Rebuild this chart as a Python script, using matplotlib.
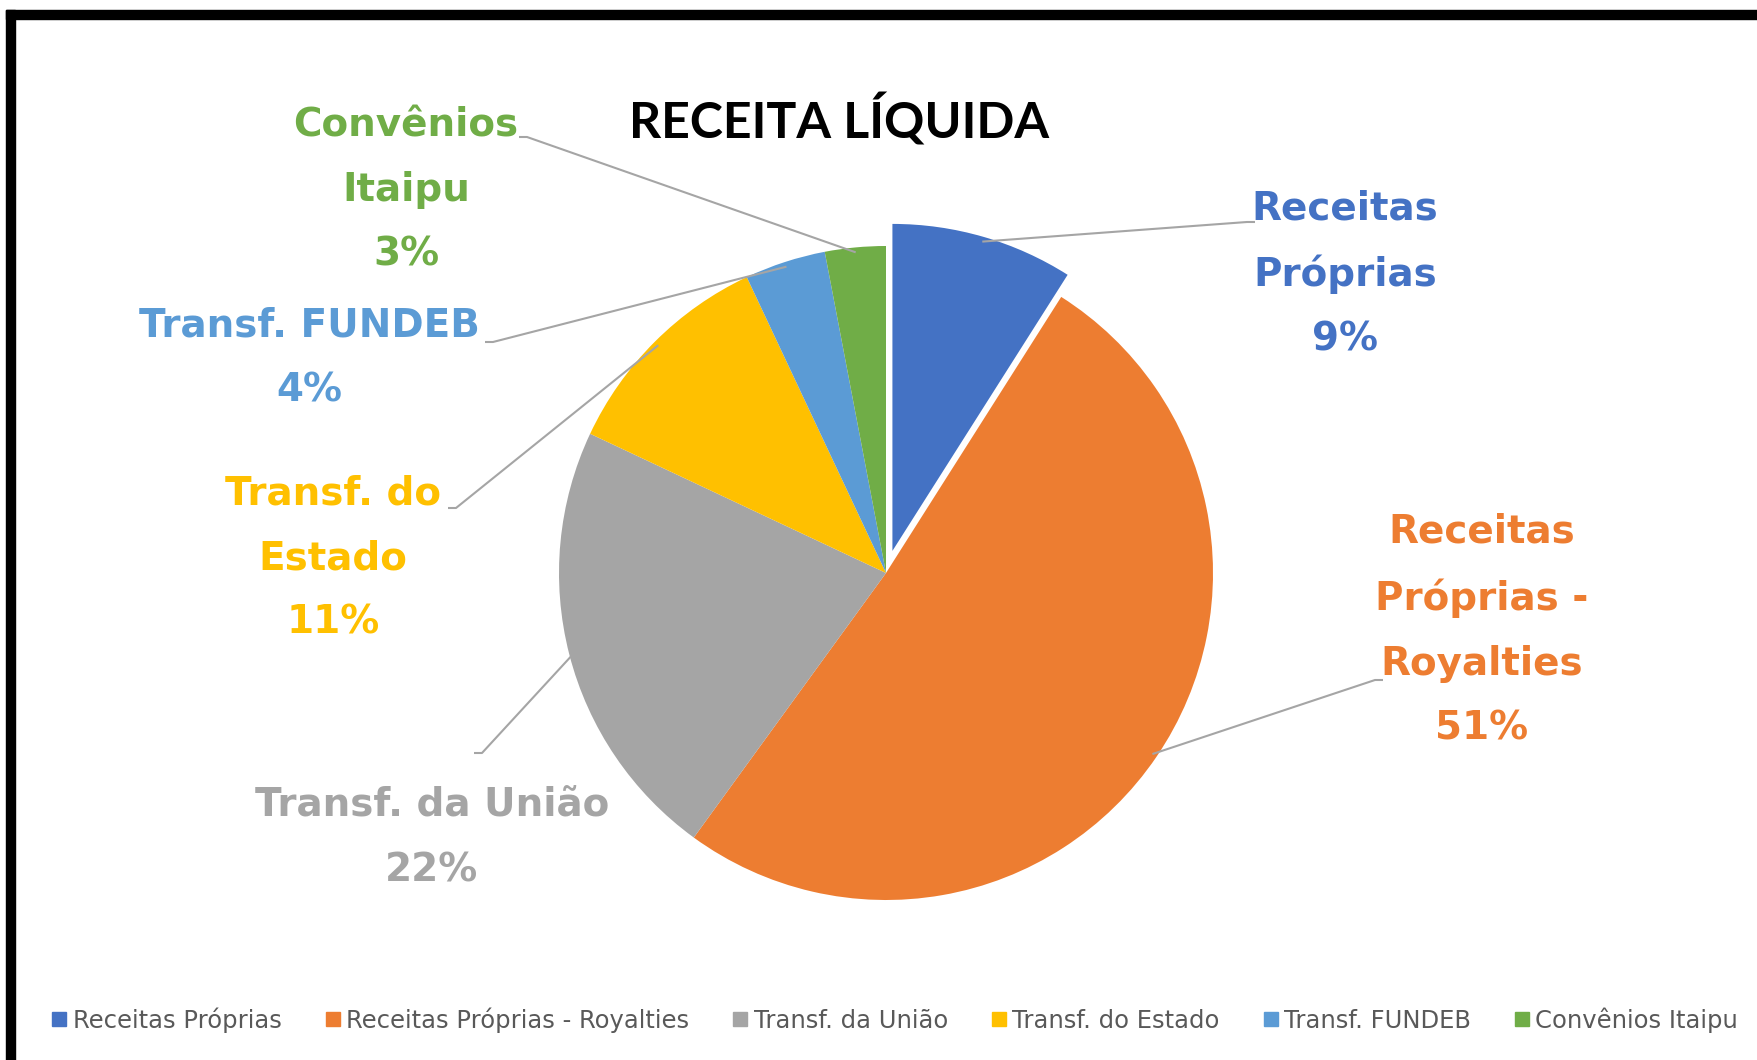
import matplotlib
matplotlib.use("Agg")
import matplotlib.pyplot as plt
from matplotlib.lines import Line2D
from matplotlib.patches import Rectangle
import numpy as np

categories = ["Receitas Próprias", "Receitas Próprias - Royalties", "Transf. da União",
              "Transf. do Estado", "Transf. FUNDEB", "Convênios Itaipu"]
values = [9, 51, 22, 11, 4, 3]
label_texts = ["Receitas\nPróprias\n9%", "Receitas\nPróprias -\nRoyalties\n51%",
               "Transf. da União\n22%", "Transf. do\nEstado\n11%",
               "Transf. FUNDEB\n4%", "Convênios\nItaipu\n3%"]
colors = ["#4472C4", "#ED7D31", "#A5A5A5", "#FFC000", "#5B9BD5", "#70AD47"]
title = "RECEITA LÍQUIDA"

W, H = 1758, 1060
fig = plt.figure(figsize=(W / 100, H / 100), dpi=100)
ax = fig.add_axes([0, 0, 1, 1])
ax.set_xlim(0, W)
ax.set_ylim(0, H)
ax.set_aspect("equal")
ax.axis("off")

def Y(y):
    return H - y

cx, cy, R = 886, 573, 327
# matplotlib offsets exploded wedges in data units (not scaled by radius)
explode = [23, 0, 0, 0, 0, 0]
wedges, _ = ax.pie(values, colors=colors, startangle=90, counterclock=False,
                   center=(cx, Y(cy)), radius=R, explode=explode,
                   wedgeprops=dict(linewidth=0))
ax.set_xlim(0, W)
ax.set_ylim(0, H)

# label positions (text block centres) and leader line ends (image px)
label_pos = [(1345, 274), (1482, 630), (432, 838), (333, 558), (309, 358), (406, 190)]
line_end = [(1247, 222), (1375, 680), (482, 753), (456, 508), (493, 342), (527, 137)]
tick_dir = [1, 1, -1, -1, -1, -1]

start = 90.0
total = sum(values)
for i, v in enumerate(values):
    span = 360.0 * v / total
    mid = np.deg2rad(start - span / 2)
    start -= span
    off = explode[i]
    px = cx + (R * 0.985 + off) * np.cos(mid)
    py = Y(cy) + (R * 0.985 + off) * np.sin(mid)
    ex, ey = line_end[i]
    ax.plot([px, ex, ex + 8 * tick_dir[i]],
            [py, Y(ey), Y(ey)], color="#A5A5A5", lw=1.5, solid_capstyle="butt")
    lx, ly = label_pos[i]
    ax.text(lx, Y(ly), label_texts[i], ha="center", va="center", color=colors[i],
            fontsize=28, fontweight="bold", family="DejaVu Sans", linespacing=1.88)

ax.text(839, Y(120), title, ha="center", va="center", fontsize=36,
        fontweight="bold", family="Lato", color="black")

handles = [Line2D([0], [0], marker="s", linestyle="none", markersize=10,
                  markerfacecolor=c, markeredgecolor=c) for c in colors]
leg = fig.legend(handles, categories, loc="center", bbox_to_anchor=(894 / W, 1 - 1020 / H),
                 ncol=6, frameon=False, handletextpad=0.15,
                 columnspacing=1.7, handlelength=0.8,
                 prop=dict(family="DejaVu Sans", size=17.5))
for t in leg.get_texts():
    t.set_color("#595959")

# black frame on top and left
fig.patches.append(Rectangle((6 / W, 1 - 19 / H), 1, 9 / H, transform=fig.transFigure,
                             color="black", zorder=10))
fig.patches.append(Rectangle((6 / W, 0), 9 / W, 1 - 10 / H, transform=fig.transFigure,
                             color="black", zorder=10))

fig.savefig("out.png", dpi=100, facecolor="white")
